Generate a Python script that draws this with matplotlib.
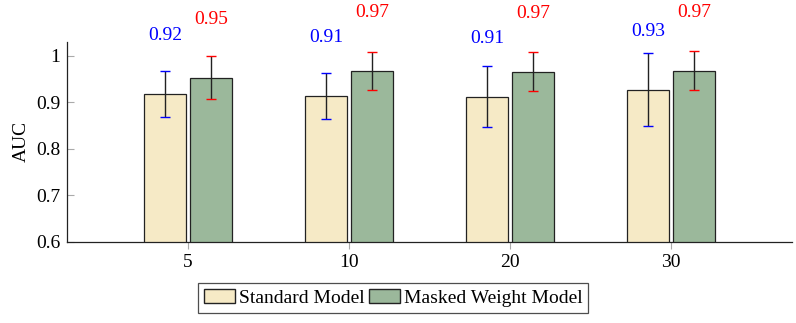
import numpy as np
import matplotlib.pyplot as plt
from matplotlib.patches import Patch

categories = ['5', '10', '20', '30']
std_mean = [0.918, 0.913, 0.912, 0.927]
std_err = [0.049, 0.049, 0.065, 0.079]
std_labels = ['0.92', '0.91', '0.91', '0.93']
mask_mean = [0.953, 0.967, 0.966, 0.968]
mask_err = [0.047, 0.040, 0.042, 0.042]
mask_labels = ['0.95', '0.97', '0.97', '0.97']

plt.rcParams['font.family'] = ['Liberation Serif', 'DejaVu Serif']
plt.rcParams['font.size'] = 14

c_std = '#f6eac6'
c_mask = '#9bb89b'

fig = plt.figure(figsize=(7.96, 3.23), dpi=100)
ax = fig.add_axes([0.0842, 0.2508, 0.9108, 0.620])

ind = np.arange(len(categories))
width = 0.26
off = 0.143

ax.bar(ind - off, std_mean, width, color=c_std, edgecolor='#222222', linewidth=0.9)
ax.bar(ind + off, mask_mean, width, color=c_mask, edgecolor='#222222', linewidth=0.9)

for xs, m, e, col in [(ind - off, std_mean, std_err, 'blue'),
                      (ind + off, mask_mean, mask_err, 'red')]:
    eb = ax.errorbar(xs, m, yerr=e, fmt='none', ecolor='#222222', elinewidth=1.0,
                     capsize=3.3, capthick=1.0)
    for cl in eb[1]:
        cl.set_markeredgecolor(col)
        cl.set_zorder(4)

for i in range(len(categories)):
    ax.annotate(std_labels[i], (ind[i] - off, std_mean[i]), xytext=(0, 42),
                textcoords='offset points', ha='center', va='center',
                color='blue', annotation_clip=False)
    ax.annotate(mask_labels[i], (ind[i] + off, mask_mean[i]), xytext=(0, 42),
                textcoords='offset points', ha='center', va='center',
                color='red', annotation_clip=False)

ax.set_xlim(-0.75, 3.75)
ax.set_ylim(0.6, 1.03)
ax.set_xticks(ind)
ax.set_xticklabels(categories)
ax.set_yticks([0.6, 0.7, 0.8, 0.9, 1.0])
ax.set_yticklabels(['0.6', '0.7', '0.8', '0.9', '1'])
ax.set_ylabel('AUC', labelpad=4)

for s in ['top', 'right']:
    ax.spines[s].set_visible(False)
for s in ['left', 'bottom']:
    ax.spines[s].set_color('#222222')
    ax.spines[s].set_linewidth(0.9)
ax.tick_params(axis='y', direction='in', length=5, color='#aaaaaa', pad=5)
ax.tick_params(axis='x', direction='out', length=5, color='#aaaaaa', pad=4)

handles = [Patch(facecolor=c_std, edgecolor='#222222', label='Standard Model'),
           Patch(facecolor=c_mask, edgecolor='#222222', label='Masked Weight Model')]
leg = fig.legend(handles=handles, loc='center', bbox_to_anchor=(0.494, 0.077), ncol=2,
                 frameon=True, fancybox=False, edgecolor='#222222', handlelength=1.6,
                 handleheight=0.75, handletextpad=0.2, columnspacing=0.2,
                 borderpad=0.3, borderaxespad=0)
leg.get_frame().set_linewidth(0.9)

plt.savefig('out.png', dpi=100)
